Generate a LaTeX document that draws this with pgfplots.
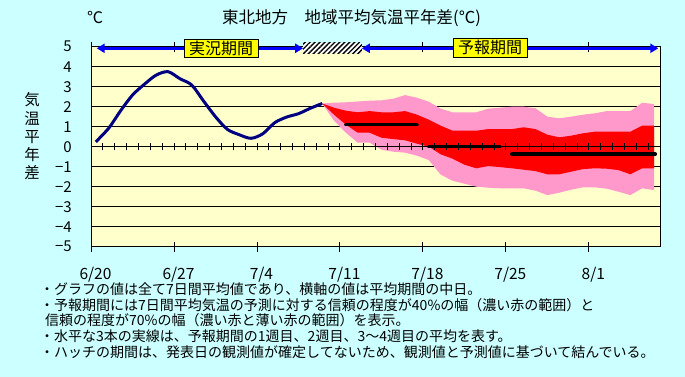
\documentclass[border=0pt]{standalone}
\usepackage{pgfplots}
\pgfplotsset{compat=1.18}
\usepackage{fontspec}
\usetikzlibrary{patterns,patterns.meta,arrows.meta}
\newfontfamily\jp{Noto Sans CJK JP}
\definecolor{bgc}{HTML}{CCFFFF}
\definecolor{plotbg}{HTML}{FFFFCC}
\definecolor{pinkb}{HTML}{FF99CC}
\definecolor{obs}{HTML}{000080}
\definecolor{arrowblue}{HTML}{0000FF}
\definecolor{boxyellow}{HTML}{FFFF00}
\begin{document}
\begin{tikzpicture}[x=1pt,y=1pt]
\fill[bgc] (0,0) rectangle (685,377);
\useasboundingbox (0,0) rectangle (685,377);
\begin{axis}[
  at={(91pt,130.3pt)}, anchor=south west,
  scale only axis, width=569pt, height=200pt,
  xmin=0, xmax=48, ymin=-5, ymax=5,
  clip=false,
  axis background/.style={fill=plotbg},
  axis line style={black, line width=0.9pt},
  xtick={0,7,14,21,28,35,42},
  xticklabels={6/20,6/27,7/4,7/11,7/18,7/25,8/1},
  ytick={-5,-4,-3,-2,-1,0,1,2,3,4,5},
  yticklabels={−5,−4,−3,−2,−1,0,1,2,3,4,5},
  ymajorgrids, grid style={black, line width=0.9pt},
  tick align=center,
  x tick style={black, line width=0.9pt},
  major tick length=10pt,
  y tick style={draw=none},
  xticklabel style={font=\jp\fontsize{15.5}{15.5}\selectfont, anchor=center, inner sep=0pt, yshift=-22.6pt, xshift=4.5pt},
  yticklabel style={font=\jp\fontsize{15}{15}\selectfont, anchor=east, inner sep=0pt, xshift=-14pt},
]
% 70% band (pink)
\addplot[fill=pinkb, draw=none] coordinates {
 (19.5,2.16) (20.5,2.2) (21.5,2.22) (22.5,2.26) (23.5,2.3) (24.5,2.32) (25.5,2.4) (26.5,2.58) (27.5,2.45) (28.5,2.25)
 (29.5,1.9) (30.5,1.72) (31.5,1.72) (32.5,1.72) (33.5,1.9) (34.5,1.95) (35.5,2.0) (36.5,2.0) (37.5,1.92) (38.5,1.5)
 (39.5,1.42) (40.5,1.5) (41.5,1.6) (42.5,1.67) (43.5,1.78) (44.5,1.78) (45.5,1.78) (46.5,2.2) (47.5,2.13)
 (47.5,-2.17) (46.5,-2.08) (45.5,-2.42) (44.5,-2.25) (43.5,-2.1) (42.5,-2.03) (41.5,-2.03) (40.5,-2.15) (39.5,-2.3)
 (38.5,-2.42) (37.5,-2.2) (36.5,-2.08) (35.5,-2.08) (34.5,-2.08) (33.5,-2.05) (32.5,-2.0) (31.5,-1.85) (30.5,-1.7)
 (29.5,-1.4) (28.5,-0.67) (27.5,-0.45) (26.5,-0.3) (25.5,-0.25) (24.5,-0.15) (23.5,0.2) (22.5,0.2) (21.5,0.7) (20.5,1.3) (19.5,2.16)
};
% 40% band (red)
\addplot[fill=red, draw=none] coordinates {
 (19.5,2.16) (20.5,1.95) (21.5,1.8) (22.5,1.72) (23.5,1.78) (24.5,1.72) (25.5,1.72) (26.5,1.78) (27.5,1.6) (28.5,1.35)
 (29.5,1.05) (30.5,0.8) (31.5,0.8) (32.5,0.8) (33.5,0.88) (34.5,0.88) (35.5,0.88) (36.5,0.97) (37.5,0.88) (38.5,0.6)
 (39.5,0.47) (40.5,0.55) (41.5,0.67) (42.5,0.75) (43.5,0.75) (44.5,0.75) (45.5,0.75) (46.5,1.05) (47.5,1.05)
 (47.5,-1.08) (46.5,-1.08) (45.5,-1.38) (44.5,-1.17) (43.5,-1.1) (42.5,-1.08) (41.5,-1.12) (40.5,-1.25) (39.5,-1.38)
 (38.5,-1.38) (37.5,-1.22) (36.5,-1.15) (35.5,-1.08) (34.5,-1.02) (33.5,-0.97) (32.5,-1.08) (31.5,-0.9) (30.5,-0.6)
 (29.5,-0.38) (28.5,0.0) (27.5,0.15) (26.5,0.32) (25.5,0.38) (24.5,0.45) (23.5,0.7) (22.5,0.7) (21.5,1.1) (20.5,1.6) (19.5,2.16)
};
% zero line with daily ticks
\addplot[black, line width=0.9pt] coordinates {(0,0) (48,0)};
\pgfplotsinvokeforeach{1,...,47}{\draw[black, line width=0.9pt] (axis cs:#1,-0.185) -- (axis cs:#1,0.185);}
% weekly means
\addplot[black, line width=3.6pt, line cap=round] coordinates {(21.5,1.1) (27.5,1.1)};
\addplot[black, line width=3.6pt, line cap=round] coordinates {(28.5,0.0) (34.5,0.0)};
\addplot[black, line width=3.6pt, line cap=round] coordinates {(35.5,-0.37) (47.6,-0.37)};
% observed
\addplot[obs, line width=3pt, smooth] coordinates {
 (0.4,0.24) (1.5,0.93) (2.5,1.8) (3.5,2.58) (4.5,3.12) (5.5,3.58) (6.5,3.75) (7.5,3.4) (8.5,3.08) (9.5,2.28)
 (10.5,1.5) (11.5,0.87) (12.5,0.6) (13.5,0.42) (14.5,0.65) (15.5,1.2) (16.5,1.48) (17.5,1.65) (18.5,1.92) (19.5,2.16)
};
% hatch
\fill[white] (axis cs:17.9,4.67) rectangle (axis cs:22.84,5.2);
\fill[pattern={Lines[angle=45,distance=3.5pt,line width=1.4pt]}, pattern color=black] (axis cs:17.9,4.67) rectangle (axis cs:22.84,5.2);
% arrows
\draw[arrowblue, line width=3pt, {Triangle[length=8pt,width=9pt]}-{Triangle[length=8pt,width=9pt]}] (axis cs:0.48,4.92) -- (axis cs:17.9,4.92);
\draw[arrowblue, line width=3pt, {Triangle[length=8pt,width=9pt]}-{Triangle[length=8pt,width=9pt]}] (axis cs:22.84,4.92) -- (axis cs:47.86,4.92);
\node[fill=boxyellow, draw=black, line width=0.8pt, minimum width=74pt, minimum height=18pt, inner sep=0pt, font=\jp\fontsize{16}{16}\selectfont] at (axis cs:10.97,4.93) {実況期間};
\node[fill=boxyellow, draw=black, line width=0.8pt, minimum width=74pt, minimum height=19pt, inner sep=0pt, font=\jp\fontsize{16}{16}\selectfont] at (axis cs:33.66,4.96) {予報期間};
\end{axis}
% title etc.
\node[anchor=west, inner sep=0pt, font=\jp\fontsize{16.5}{16.5}\selectfont] at (222,358.7) {東北地方　地域平均気温平年差(℃)};
\node[inner sep=0pt, font=\jp\fontsize{16}{16}\selectfont] at (95,359) {℃};
\node[inner sep=0pt, align=center, font=\jp\fontsize{15.5}{18.3}\selectfont] at (32,240.5) {気\\温\\平\\年\\差};
% notes
\begin{scope}[every node/.style={anchor=west, inner sep=0pt, font=\jp\fontsize{14}{14}\selectfont}]
\node at (40,87.5) {・グラフの値は全て7日間平均値であり、横軸の値は平均期間の中日。};
\node at (40,72) {・予報期間には7日間平均気温の予測に対する信頼の程度が40\%の幅（濃い赤の範囲）と};
\node at (45,56.5) {信頼の程度が70\%の幅（濃い赤と薄い赤の範囲）を表示。};
\node at (40,40.5) {・水平な3本の実線は、予報期間の1週目、2週目、3～4週目の平均を表す。};
\node at (40,24.5) {・ハッチの期間は、発表日の観測値が確定してないため、観測値と予測値に基づいて結んでいる。};
\end{scope}
\end{tikzpicture}
\end{document}
